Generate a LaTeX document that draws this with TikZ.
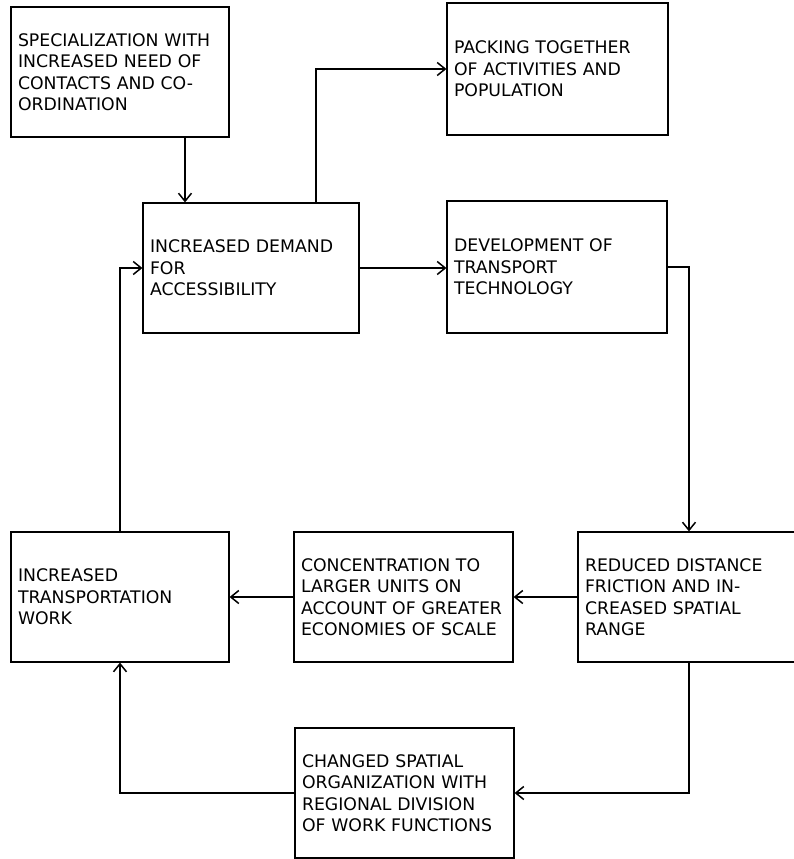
\documentclass[tikz,border=0pt]{standalone}
\usepackage{fontspec}
\setmainfont{DejaVu Sans}
\usetikzlibrary{arrows.meta}

\begin{document}
\begin{tikzpicture}[x=1pt,y=-1pt,
    box_node/.style={draw,line width=1.2pt,align=left,inner xsep=7pt,inner ysep=0pt,font=\fontsize{17.3}{21.5}\selectfont},
    flow/.style={line width=1.3pt,-{Straight Barb[length=8pt,width=13pt,line width=1.5pt]}}]
    \useasboundingbox (0,0) rectangle (794,859);

    \node[box_node,text width=204pt,minimum height=130pt] (1) at (120,72) {SPECIALIZATION WITH\\INCREASED NEED OF\\CONTACTS AND CO-\\ORDINATION};
    \node[box_node,text width=207pt,minimum height=132pt] (2) at (557.5,69) {PACKING TOGETHER\\OF ACTIVITIES AND\\POPULATION};
    \node[box_node,text width=202pt,minimum height=130pt] (3) at (251,268) {INCREASED DEMAND\\FOR\\ACCESSIBILITY};
    \node[box_node,text width=206pt,minimum height=132pt] (4) at (557,267) {DEVELOPMENT OF\\TRANSPORT\\TECHNOLOGY};
    \node[box_node,text width=208pt,minimum height=130pt] (5) at (689,597) {REDUCED DISTANCE\\FRICTION AND IN-\\CREASED SPATIAL\\RANGE};
    \node[box_node,text width=205pt,minimum height=130pt] (6) at (403.5,597) {CONCENTRATION TO\\LARGER UNITS ON\\ACCOUNT OF GREATER\\ECONOMIES OF SCALE};
    \node[box_node,text width=204pt,minimum height=130pt] (7) at (120,597) {INCREASED\\TRANSPORTATION\\WORK};
    \node[box_node,text width=205pt,minimum height=130pt] (8) at (404.5,793) {CHANGED SPATIAL\\ORGANIZATION WITH\\REGIONAL DIVISION\\OF WORK FUNCTIONS};

    \draw[flow] ([xshift=65pt]1.south) -- ([xshift=65pt]1.south |- 3.north);
    \draw[flow] ([xshift=65pt]3.north) |- (2.west);
    \draw[flow] (3.east) -- (3.east -| 4.west);
    \draw[flow] (4.east) -| (5.north);
    \draw[flow] (5.west) -- (5.west -| 6.east);
    \draw[flow] (6.west) -- (6.west -| 7.east);
    \draw[flow] (5.south) |- (8.east);
    \draw[flow] (8.west) -| (7.south);
    \draw[flow] (7.north) |- (3.west);
\end{tikzpicture}
\end{document}
